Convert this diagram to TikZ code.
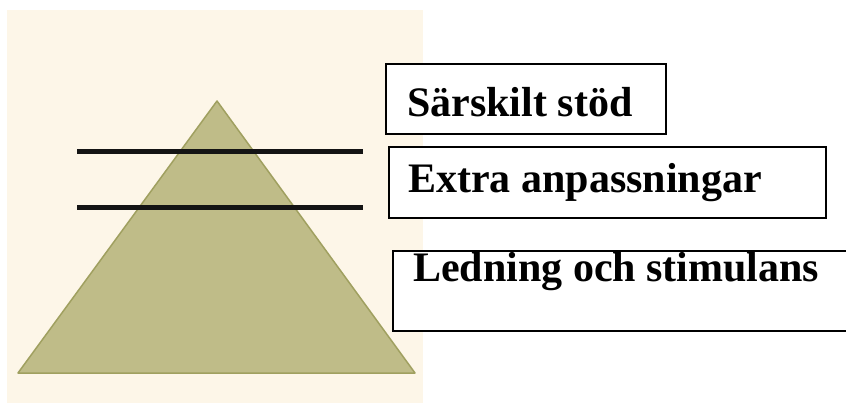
\documentclass[tikz,border=0pt]{standalone}
\usepackage{fontspec}
\setmainfont{Liberation Serif}
\definecolor{cream}{RGB}{253,246,232}
\definecolor{olivefill}{RGB}{191,188,136}
\definecolor{olivedraw}{RGB}{160,160,96}
\begin{document}
\begin{tikzpicture}[x=1pt,y=-1pt,
  labelbox/.style={draw=black,line width=1.6pt,fill=white,rectangle,inner sep=0pt,anchor=north west},
  labeltext/.style={anchor=base west,inner sep=0pt,font=\fontsize{42}{50}\selectfont\bfseries},
  divider/.style={line width=5pt,draw=black!92}]
\useasboundingbox (0,0) rectangle (846,403);
\fill[white] (0,0) rectangle (846,403);
\fill[cream] (7,10) rectangle (423,403);
\coordinate (apex) at (217,101);
\coordinate (br) at (415,373);
\coordinate (bl) at (18,373);
\filldraw[fill=olivefill,draw=olivedraw,line width=1.5pt,line join=round] (apex) -- (br) -- (bl) -- cycle;
\coordinate (l1a) at (77,152);
\coordinate (l1b) at (363,152);
\coordinate (l2a) at (77,208);
\coordinate (l2b) at (363,208);
\draw[divider] (l1a) -- (l1b);
\draw[divider] (l2a) -- (l2b);
\node[labelbox,minimum width=280pt,minimum height=70pt] (b1) at (385,63) {};
\node[labelbox,minimum width=437pt,minimum height=71pt] (b2) at (388,146) {};
\node[labelbox,minimum width=470pt,minimum height=80pt] (b3) at (392,250) {};
\node[labeltext] (t1) at (407,117) {Särskilt stöd};
\node[labeltext] (t2) at (408,193) {Extra anpassningar};
\node[labeltext] (t3) at (413,282) {Ledning och stimulans};
\end{tikzpicture}
\end{document}
